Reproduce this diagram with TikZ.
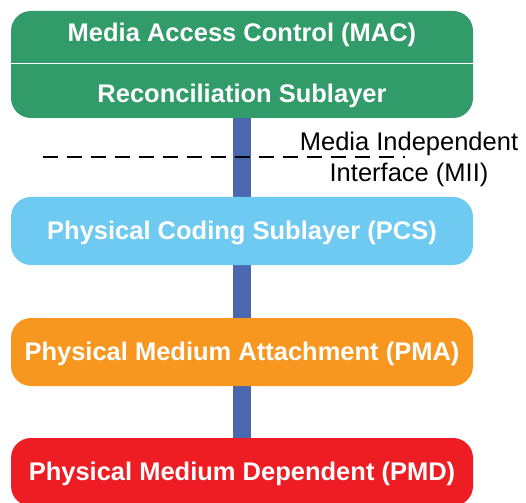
\documentclass[tikz,border=0pt]{standalone}
\usepackage{fontspec}
\setmainfont{Liberation Sans}
\definecolor{macgreen}{HTML}{319B69}
\definecolor{pcsblue}{HTML}{6ECAF1}
\definecolor{pmaorange}{HTML}{F7971F}
\definecolor{pmdred}{HTML}{EE1D24}
\definecolor{barblue}{HTML}{4A68AF}
\tikzset{
  layer/.style={rounded corners=20pt, minimum width=462pt, inner sep=0pt},
  ltext/.style={anchor=base, inner sep=0pt, text=white, font=\bfseries\fontsize{25.5}{30}\selectfont},
  mtext/.style={anchor=base, inner sep=0pt, text=black, font=\fontsize{25.5}{30}\selectfont},
}
\begin{document}
\begin{tikzpicture}[x=1pt,y=-1pt]
\useasboundingbox (0,0) rectangle (526,502);
\begin{scope}
\clip (0,0) rectangle (526,502);
% bar
\fill[barblue] (233,110) rectangle (251,445);
% top box
\node[layer, fill=macgreen, minimum height=107pt] (mac) at (242,64.5) {};
\draw[white, line width=1.8pt] (mac.west |- 0,63.5) -- (mac.east |- 0,63.5);
\node[ltext] (mact) at (242,42) {Media Access Control (MAC)};
\node[ltext] (rst) at (242,103) {Reconciliation Sublayer};
% dashed line
\coordinate (d1) at (43,157);
\coordinate (d2) at (405,157);
\draw[black, line width=1.3pt, dash pattern=on 15pt off 9pt] (d1) -- (d2);
\node[mtext] (mii1) at (409,151) {Media Independent};
\node[mtext] (mii2) at (409,182) {Interface (MII)};
% layers
\node[layer, fill=pcsblue, minimum height=68pt] (pcs) at (242,231) {};
\node[ltext] (pcst) at (242,240) {Physical Coding Sublayer (PCS)};
\node[layer, fill=pmaorange, minimum height=68pt] (pma) at (242,352) {};
\node[ltext] (pmat) at (242,360) {Physical Medium Attachment (PMA)};
\node[layer, fill=pmdred, minimum height=68pt] (pmd) at (242,472) {};
\node[ltext] (pmdt) at (242,480) {Physical Medium Dependent (PMD)};
\end{scope}
\end{tikzpicture}
\end{document}
